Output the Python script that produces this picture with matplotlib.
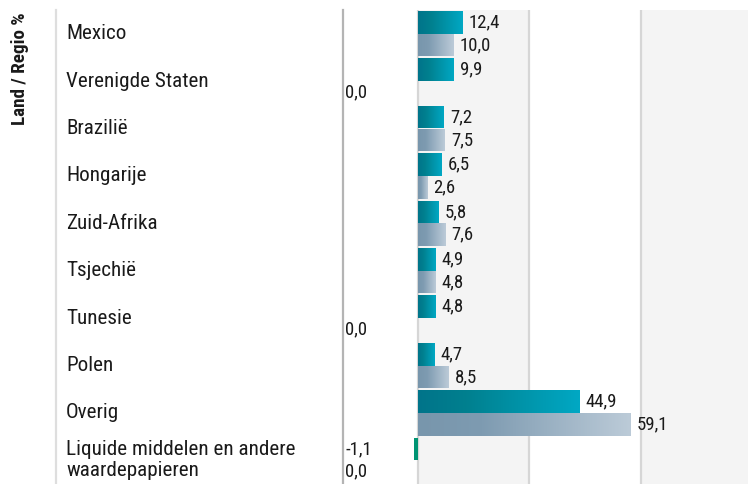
import matplotlib
matplotlib.use("Agg")
import matplotlib.pyplot as plt
import numpy as np
from matplotlib.colors import LinearSegmentedColormap
from matplotlib.lines import Line2D
import matplotlib.transforms as mtransforms

categories = ['Mexico', 'Verenigde Staten', 'Brazilië', 'Hongarije', 'Zuid-Afrika',
              'Tsjechië', 'Tunesie', 'Polen', 'Overig',
              'Liquide middelen en andere\nwaardepapieren']
series1 = [12.4, 9.9, 7.2, 6.5, 5.8, 4.9, 4.8, 4.7, 44.9, -1.1]
series2 = [10.0, 0.0, 7.5, 2.6, 7.6, 4.8, 0.0, 8.5, 59.1, 0.0]
grid_ticks = [0, 31, 62, 93]
axis_title = 'Land / Regio %'

plt.rcParams['font.family'] = ['Roboto Condensed', 'Roboto', 'DejaVu Sans']

W, H = 748, 484
fig = plt.figure(figsize=(W / 100, H / 100), dpi=100)
ax = fig.add_axes([343 / W, 0.0, 1 - 343 / W, 1 - 10 / H])

cmap1 = LinearSegmentedColormap.from_list('s1', [(0, '#00748a'), (0.3, '#00808f'), (1, '#00a8c4')])
cmap2 = LinearSegmentedColormap.from_list('s2', [(0, '#7896ac'), (0.3, '#7e9bb1'), (1, '#bccbd8')])
neg_color = '#009473'

y = np.arange(len(categories))
bh = 0.48
grad = np.linspace(0, 1, 256).reshape(1, -1)
VAL_FS = 13.5

def draw(values, offset, cmap):
    bars = ax.barh(y + offset, values, height=bh, color='none', edgecolor='none', zorder=3)
    for rect, v in zip(bars.patches, values):
        if v > 0:
            x0, y0 = rect.get_x(), rect.get_y()
            w, h = rect.get_width(), rect.get_height()
            im = ax.imshow(grad, cmap=cmap, aspect='auto', extent=[x0, x0 + w, y0 + h, y0],
                           zorder=3, interpolation='bicubic')
            im.set_clip_path(rect)
        elif v < 0:
            rect.set_facecolor(neg_color)
        yc = rect.get_y() + rect.get_height() / 2
        lab = f'{v:.1f}'.replace('.', ',')
        if v > 0:
            ax.annotate(lab, (v, yc), xytext=(4.5, 0), textcoords='offset points',
                        va='center', ha='left', fontsize=VAL_FS, color='#1a1a1a', zorder=5)
        else:
            ax.annotate(lab, (0, yc), xycoords=('axes fraction', 'data'), xytext=(1.5, 0),
                        textcoords='offset points', va='center', ha='left',
                        fontsize=VAL_FS, color='#1a1a1a', zorder=5)

draw(series1, -bh / 2, cmap1)
draw(series2, bh / 2, cmap2)

for i in range(len(grid_ticks) - 1):
    if i % 2 == 0:
        ax.axvspan(grid_ticks[i], grid_ticks[i + 1], color='#f4f4f4', zorder=0, lw=0)
for t in grid_ticks[:-1]:
    ax.axvline(t, color='#d6d6d6', lw=1.6, zorder=1)

ax.set_xlim(-20.8, 91.9)
ax.set_ylim(len(categories) - 0.5, -0.5)
ax.set_xticks([])
ax.set_yticks([])
for s in ['top', 'right', 'bottom']:
    ax.spines[s].set_visible(False)
ax.spines['left'].set_color('#b4b4b4')
ax.spines['left'].set_linewidth(1.6)

tr = mtransforms.blended_transform_factory(fig.transFigure, ax.transData)
for yi, c in zip(y, categories):
    ax.text(66 / W, yi, c, transform=tr, ha='left', va='center', fontsize=15.2,
            color='#1a1a1a', linespacing=1.16, clip_on=False)

fig.add_artist(Line2D([56 / W, 56 / W], [0, 1 - 10 / H], color='#dedede', lw=1.6))
fig.text(20 / W, 1 - 69 / H, axis_title, rotation=90, ha='center', va='center',
         fontsize=13.8, fontweight='bold', color='#1a1a1a')

fig.savefig('out.png', dpi=100)
